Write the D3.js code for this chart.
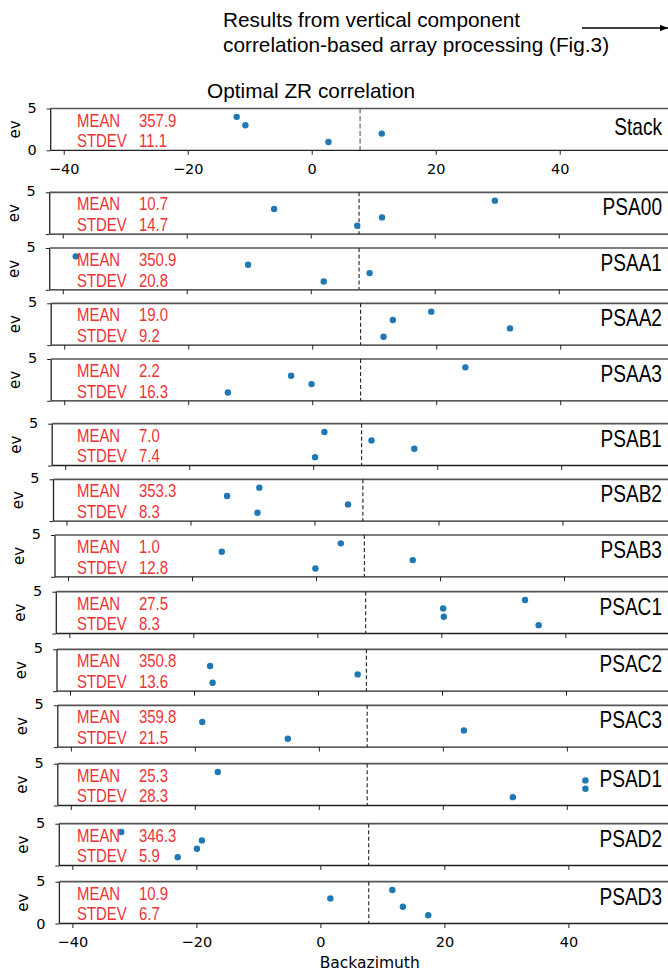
<!DOCTYPE html>
<html>
<head>
<meta charset="utf-8">
<title>Optimal ZR correlation</title>
<script src="https://d3js.org/d3.v7.min.js"></script>
<style>
    body { margin: 0; background: #fff; }
    svg { display: block; }
    .tick text { font-family: "DejaVu Sans", sans-serif; font-size: 14.5px; fill: #000; }
    .tick line { stroke: #222; }
</style>
</head>
<body>
<div id="chart"></div>
<script>
// station names, one panel each
var stations = ['Stack', 'PSA00', 'PSAA1', 'PSAA2', 'PSAA3', 'PSAB1', 'PSAB2',
                'PSAB3', 'PSAC1', 'PSAC2', 'PSAC3', 'PSAD1', 'PSAD2', 'PSAD3'];
var meanVals = ['357.9', '10.7', '350.9', '19.0', '2.2', '7.0', '353.3',
                '1.0', '27.5', '350.8', '359.8', '25.3', '346.3', '10.9'];
var stdevVals = ['11.1', '14.7', '20.8', '9.2', '16.3', '7.4', '8.3',
                 '12.8', '8.3', '13.6', '21.5', '28.3', '5.9', '6.7'];
// backazimuth of each event (x) and event number (y)
var baz = [
    [-12.1, -10.7, 2.7, 11.3],
    [-5.9, 11.5, 7.5, 29.7],
    [-37.9, -10.1, 2.1, 9.5],
    [13.0, 19.2, 11.5, 31.9],
    [-3.4, -0.1, -13.6, 24.7],
    [1.8, 9.4, 16.3, 0.3],
    [-14.1, -8.9, -9.2, 5.4],
    [-15.2, 4.0, -0.1, 15.6],
    [20.3, 20.4, 33.5, 35.7],
    [-17.4, -17.0, 6.4],
    [-18.8, -5.0, 23.4],
    [-16.3, 43.0, 43.0, 31.3],
    [-32.1, -19.1, -19.9, -23.0],
    [1.6, 11.6, 13.3, 17.4]
];
var ev = [
    [4, 3, 1, 2],
    [3, 2, 1, 4],
    [4, 3, 1, 2],
    [3, 4, 1, 2],
    [3, 2, 1, 4],
    [4, 3, 2, 1],
    [3, 4, 1, 2],
    [3, 4, 1, 2],
    [3, 2, 4, 1],
    [3, 1, 2],
    [3, 1, 2],
    [4, 3, 2, 1],
    [4, 3, 2, 1],
    [3, 4, 2, 1]
];
var refBaz = 7.8;
var xTicks = [-40, -20, 0, 20, 40];
var yTicks = [0, 5];

// layout (the panels in the figure are pasted slightly offset)
var width = 668;
var height = 975;
var panelTop = [108.5, 192.3, 248, 303.3, 359, 423.7, 479.3, 535, 591.7, 649.3, 705.3, 763.7, 823.7, 881.7];
var panelShift = [0, -1, -1, 0.5, 0.5, 1.5, 2.8, 4.3, 5.6, 6.3, 7.1, 7.1, 8.6, 8.7];
var panelH = 41.8;
var left0 = 50.7;
var red = '#ee3338';
var narrow = 0.83;

var svg = d3.select('#chart').append('svg')
    .attr('width', width)
    .attr('height', height);

var x = d3.scaleLinear()
    .domain([-42.1, 58])
    .range([0, 100.1 * 6.2]);

var y = d3.scaleLinear()
    .domain([0, 5])
    .range([panelH, 0]);

// condensed text helper (narrow sans)
function narrowText(parent, tx, ty, str, size, color, anchor) {
    parent.append('g')
        .attr('transform', 'translate(' + tx + ',' + ty + ') scale(' + narrow + ',1)')
        .append('text')
        .attr('text-anchor', anchor || 'start')
        .style('font-family', '"Liberation Sans", Arial, sans-serif')
        .style('font-size', size + 'px')
        .style('fill', color)
        .text(str);
}

var last = stations.length - 1;

stations.forEach(function(name, i) {
    var g = svg.append('g')
        .attr('transform', 'translate(' + (left0 + panelShift[i]) + ',' + panelTop[i] + ')');

    var showX = (i === 0 || i === last);

    // x axis
    var xa = g.append('g')
        .attr('transform', 'translate(0,' + panelH + ')')
        .call(d3.axisBottom(x)
            .tickValues(xTicks)
            .tickSize(4.5)
            .tickPadding(9)
            .tickFormat(showX ? d3.format('') : function() { return ''; }));
    xa.select('.domain').remove();

    // y axis
    var ya = g.append('g')
        .call(d3.axisLeft(y)
            .tickValues(yTicks)
            .tickSize(4)
            .tickPadding(10)
            .tickFormat(function(d) { return (d === 5 || showX) ? d : ''; }));
    ya.select('.domain').remove();
    ya.selectAll('.tick text').attr('dy', d => d === 5 ? '0.25em' : '0.32em');

    // spines
    g.append('line').attr('x1', 0).attr('x2', 0).attr('y1', 0).attr('y2', panelH)
        .style('stroke', '#222').style('stroke-width', 1.3);
    g.append('line').attr('x1', 0).attr('x2', 700).attr('y1', panelH).attr('y2', panelH)
        .style('stroke', '#222').style('stroke-width', 1.3);
    g.append('line').attr('x1', 0).attr('x2', 700).attr('y1', 0).attr('y2', 0)
        .style('stroke', '#555').style('stroke-width', 1.7);

    // y label
    g.append('text')
        .attr('transform', 'translate(-31,' + (panelH / 2) + ') rotate(-90)')
        .attr('text-anchor', 'middle')
        .style('font-family', '"DejaVu Sans", sans-serif')
        .style('font-size', '15px')
        .text('ev');

    // reference backazimuth
    g.append('line')
        .attr('x1', x(refBaz)).attr('x2', x(refBaz))
        .attr('y1', 0).attr('y2', panelH)
        .style('stroke', i === 0 ? '#555' : '#222')
        .style('stroke-width', 1.1)
        .style('stroke-dasharray', i === 0 ? '5,2.5' : '4,2.5');

    // events
    g.selectAll('circle')
        .data(baz[i])
        .enter().append('circle')
            .attr('cx', function(d) { return x(d); })
            .attr('cy', function(d, j) { return y(ev[i][j]); })
            .attr('r', 3.2)
            .style('fill', '#1f77b4');

    // station name and statistics
    var top = panelTop[i];
    narrowText(svg, 662, top + (i === 0 ? 26.5 : 23), name, 23, '#000', 'end');
    narrowText(svg, 77, top + 18, 'MEAN', 18, red);
    narrowText(svg, 139, top + 18, meanVals[i], 18, red);
    narrowText(svg, 77, top + 38.5, 'STDEV', 18, red);
    narrowText(svg, 139, top + 38.5, stdevVals[i], 18, red);
});

// x label
svg.append('text')
    .attr('x', left0 + panelShift[last] + x.range()[1] / 2)
    .attr('y', 968)
    .attr('text-anchor', 'middle')
    .style('font-family', '"DejaVu Sans", sans-serif')
    .style('font-size', '15.5px')
    .text('Backazimuth');

// title
svg.append('text')
    .attr('x', 311)
    .attr('y', 98)
    .attr('text-anchor', 'middle')
    .style('font-family', '"Liberation Sans", Arial, sans-serif')
    .style('font-size', '20.8px')
    .text('Optimal ZR correlation');

// note at top with arrow
var note = svg.append('text')
    .style('font-family', '"Liberation Sans", Arial, sans-serif')
    .style('font-size', '20.8px');
note.append('tspan').attr('x', 223).attr('y', 26.5).text('Results from vertical component');
note.append('tspan').attr('x', 223).attr('y', 51.5).text('correlation-based array processing (Fig.3)');

svg.append('defs').append('marker')
    .attr('id', 'arrow')
    .attr('viewBox', '0 0 10 10')
    .attr('refX', 10).attr('refY', 5)
    .attr('markerWidth', 8).attr('markerHeight', 8)
    .attr('markerUnits', 'userSpaceOnUse')
    .attr('orient', 'auto')
    .append('path')
    .attr('d', 'M0,1 L10,5 L0,9 Z')
    .style('fill', '#000');

svg.append('line')
    .attr('x1', 582).attr('x2', 668)
    .attr('y1', 28).attr('y2', 28)
    .style('stroke', '#000')
    .style('stroke-width', 1.3)
    .attr('marker-end', 'url(#arrow)');
</script>
</body>
</html>
